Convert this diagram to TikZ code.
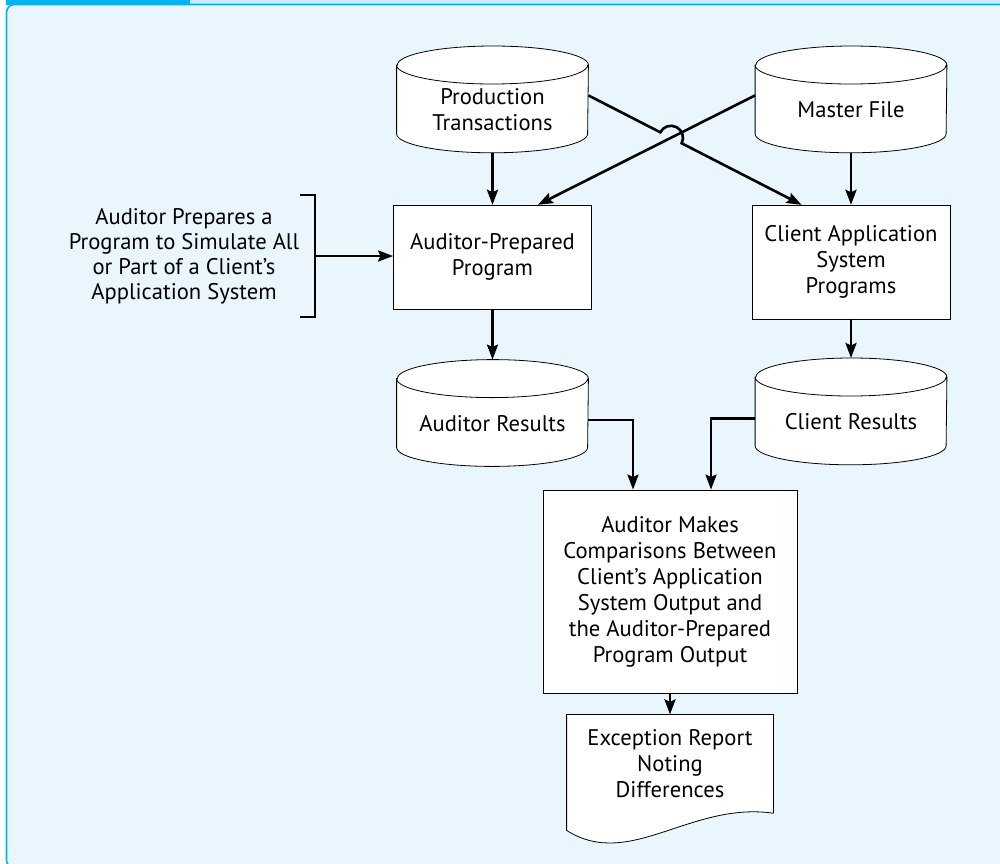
\documentclass[tikz,border=0pt]{standalone}
\usepackage{fontspec}
\setmainfont{PT Sans}
\usetikzlibrary{arrows.meta, positioning, calc, intersections}
\definecolor{panel}{HTML}{EAF6FD}
\definecolor{frameblue}{HTML}{00B4F0}
\definecolor{barlight}{HTML}{C8ECFB}
\pgfdeclarelayer{panel}
\pgfdeclarelayer{background}
\pgfsetlayers{panel,background,main}

\begin{document}
\begin{tikzpicture}[x=0.5pt, y=-0.5pt, >={Stealth[length=7.5pt, width=5.5pt, inset=1.2pt]},
  font=\fontsize{11.3}{13}\selectfont, line width=0.8pt,
  proc/.style={draw, fill=white, align=center, minimum width=99pt, minimum height=52pt, inner sep=3pt},
  db/.style={align=center, anchor=north, minimum width=95.5pt, minimum height=53pt,
    text height=18.5pt, text depth=0pt},
  flow/.style={->, line width=1.3pt}]
  % panel
  \useasboundingbox (0,0) rectangle (1000,863);
  \begin{pgfonlayer}{panel}
    \fill[panel] (6,4) rectangle (1000,870);
    \fill[barlight] (190,0) rectangle (1000,4);
    \draw[frameblue, line width=0.8pt, rounded corners=4pt] (1000,4.5) -- (6.5,4.5) -- (6.5,868) -- (30,868);
    \fill[frameblue] (6,0) rectangle (190,5);
  \end{pgfonlayer}

  % stores and programs
  \node[db, text height=31.5pt] (prod) at (492.5,46) {Production\\Transactions};
  \node[db] (master) at (851,46) {Master File};
  \node[proc, below=26pt of prod] (sim) {Auditor-Prepared\\Program};
  \node[proc, below=26pt of master, minimum height=57pt] (client) {Client Application\\System\\Programs};
  \node[db, below=25pt of sim] (audres) {Auditor Results};
  \node[db] (cliresults) at (851,358) {Client Results};
  \node[proc, minimum width=127pt, minimum height=101.5pt] (compare) at (670,591.5)
    {Auditor Makes\\Comparisons Between\\Client’s Application\\System Output and\\the Auditor-Prepared\\Program Output};
  \node[align=center, minimum width=103pt, minimum height=49pt, below=10.5pt of compare] (report)
    {Exception Report\\Noting\\Differences};
  \node[align=center, font=\fontsize{11.3}{12.5}\selectfont] (prep) at (184,256)
    {Auditor Prepares a\\Program to Simulate All\\or Part of a Client’s\\Application System};

  % cylinders and report outline
  \begin{pgfonlayer}{background}
    \foreach \n in {prod,master,audres,cliresults}
      \draw[fill=white] ([yshift=-9.5pt]\n.north west) -- ([yshift=9.5pt]\n.south west)
        arc[start angle=180, end angle=360, x radius=47.75pt, y radius=9.5pt]
        -- ([yshift=-9.5pt]\n.north east)
        arc[start angle=0, end angle=180, x radius=47.75pt, y radius=9.5pt] -- cycle
        ([yshift=-9.5pt]\n.north west) arc[start angle=180, end angle=360, x radius=47.75pt, y radius=9.5pt];
    \draw[fill=white] (report.south east) -- (report.north east) -- (report.north west) -- ++(0,116)
      .. controls +(63,40) and +(-83,-12) .. (report.south east);
  \end{pgfonlayer}

  % bracket
  \coordinate (brk) at (315,256);
  \draw[line width=1.3pt] ($(brk)+(-15,-61)$) -- ($(brk)+(0,-61)$) -- ($(brk)+(0,61)$) -- ($(brk)+(-15,61)$);
  \draw[flow] (brk) -- (brk -| sim.west);

  % arrows
  \draw[flow] (prod) -- (sim);
  \draw[flow] (master) -- (client);
  \draw[flow] (sim) -- (audres);
  \draw[flow] (client) -- (cliresults);
  \coordinate (prodout) at ([yshift=2pt]prod.east);
  \coordinate (masterout) at ([yshift=2pt]master.west);
  \coordinate (simtip) at ([xshift=-27pt]sim.north east);
  \coordinate (clitip) at ([xshift=25pt]client.north west);
  \draw[flow, name path=ms] (masterout) -- (simtip);
  \path[name path=pc] (prodout) -- (clitip);
  \path[name intersections={of=ms and pc, by=hop}];
  \draw[flow] let \p1=($(clitip)-(prodout)$), \n1={atan2(\y1,\x1)} in
    (prodout) -- ($(hop)!6pt!(prodout)$) arc[start angle=\n1+180, end angle=\n1, radius=6pt] -- (clitip);
  \draw[flow] ([yshift=-3.5pt]audres.east) -| ([xshift=-18.5pt]compare.north);
  \draw[flow] ([yshift=-3.5pt]cliresults.west) -| ([xshift=20.5pt]compare.north);
  \draw[flow] (compare) -- (report);
\end{tikzpicture}
\end{document}
